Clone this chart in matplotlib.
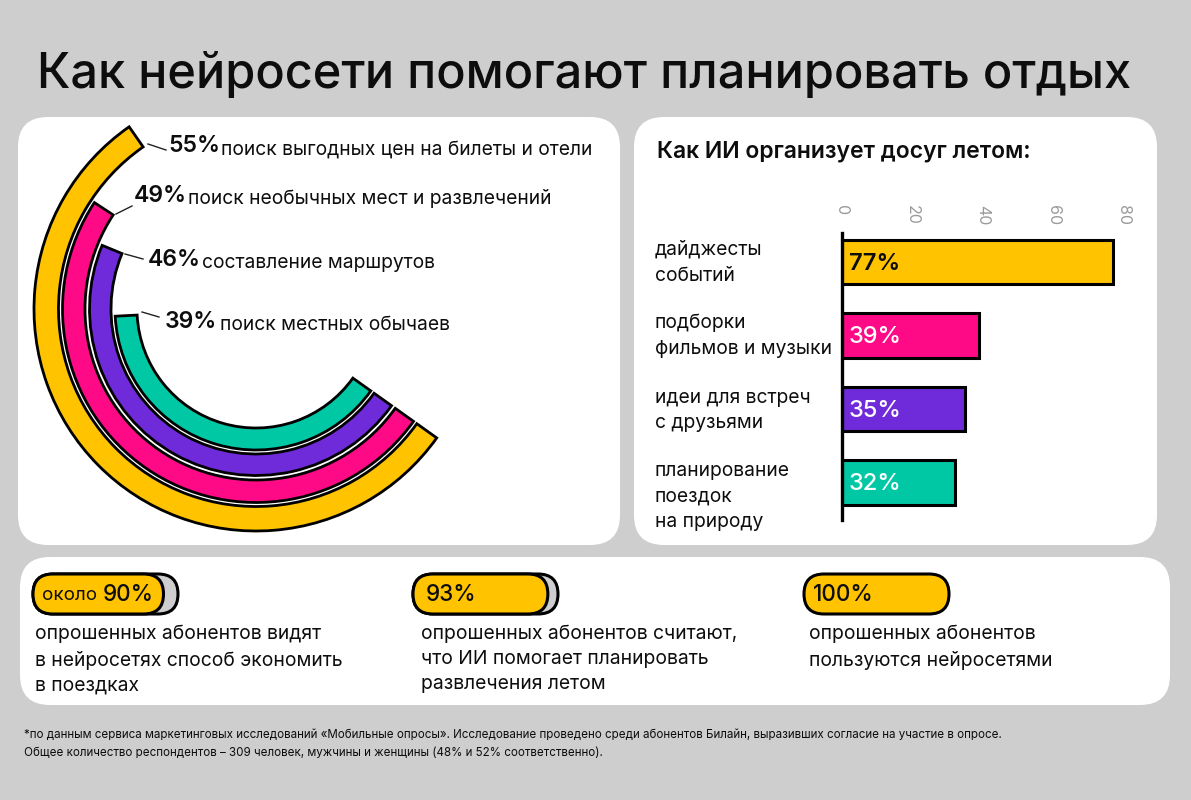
import numpy as np
import matplotlib
matplotlib.use("Agg")
import matplotlib.pyplot as plt
from matplotlib.patches import FancyBboxPatch

plt.rcParams['font.family'] = ['Inter', 'DejaVu Sans']

title = "Как нейросети помогают планировать отдых"
right_title = "Как ИИ организует досуг летом:"

arc_vals = [55, 49, 46, 39]
arc_labels = ["поиск выгодных цен на билеты и отели", "поиск необычных мест и развлечений",
              "составление маршрутов", "поиск местных обычаев"]
colors = ["#FFC300", "#FF0A86", "#6F2BD9", "#00C8A5"]

bar_vals = [77, 39, 35, 32]
bar_labels = ["дайджесты\nсобытий", "подборки\nфильмов и музыки",
              "идеи для встреч\nс друзьями", "планирование\nпоездок\nна природу"]
bar_ticks = [0, 20, 40, 60, 80]

pill_vals = [90, 93, 100]
pill_labels = ["90%", "93%", "100%"]
pill_texts = ["опрошенных абонентов видят\nв нейросетях способ экономить\nв поездках",
              "опрошенных абонентов считают,\nчто ИИ помогает планировать\nразвлечения летом",
              "опрошенных абонентов\nпользуются нейросетями"]

footnote = ["*по данным сервиса маркетинговых исследований «Мобильные опросы». Исследование проведено среди абонентов Билайн, выразивших согласие на участие в опросе.",
            "Общее количество респондентов – 309 человек, мужчины и женщины (48% и 52% соответственно)."]

W, H = 1191, 800
INK = "#0D0D0D"
fig = plt.figure(figsize=(W / 100, H / 100), dpi=100, facecolor="#CECECE")

# page layer in pixel coordinates
bg = fig.add_axes([0, 0, 1, 1])
bg.set_xlim(0, W)
bg.set_ylim(H, 0)
bg.axis('off')


def panel(x, y, w, h, r=30, fc="white", ec="none", lw=0, z=1):
    bg.add_patch(FancyBboxPatch((x, y), w, h, boxstyle=f"round,pad=0,rounding_size={r}",
                                fc=fc, ec=ec, lw=lw, zorder=z))


panel(18, 117, 602, 428)
panel(634, 117, 523, 428)
panel(20, 557, 1150, 148)

bg.text(37, 74, title, fontsize=35.07, fontweight='medium', color=INK, va='center')
bg.text(657, 151, right_title, fontsize=16.5, fontweight='semibold', color=INK, va='center')

# radial chart
cx, cy, rmax = 256, 309, 240
pol = fig.add_axes([(cx - rmax) / W, (H - cy - rmax) / H, 2 * rmax / W, 2 * rmax / H], projection='polar')
pol.set_theta_direction(-1)
pol.set_theta_offset(np.radians(-35.5))
pol.set_rlim(0, rmax)
pol.axis('off')
ring_in = [197.5, 171, 145, 119]
ring_w = [24.5, 22.5, 21.5, 22]
for v, r0, dr, c in zip(arc_vals, ring_in, ring_w, colors):
    pol.bar(0, dr, width=np.radians(v * 3.63), bottom=r0, align='edge', color=c, edgecolor="black", linewidth=2)

pct_pos = [(168, 146), (134, 196), (148, 260), (165, 322)]
txt_pos = [(221, 150), (188, 199), (202, 263), (220, 325)]
leaders = [((148, 144), (166, 150)), ((116, 214), (132, 206)), ((125, 254), (143, 259)), ((142, 312), (159, 317))]
for v, lab, p, t, l in zip(arc_vals, arc_labels, pct_pos, txt_pos, leaders):
    bg.text(p[0], p[1], f"{v}%", fontsize=16.5, fontweight='semibold', color=INK, va='center', zorder=3)
    bg.text(t[0], t[1], lab, fontsize=13.85, color=INK, va='center', zorder=3)
    bg.plot([l[0][0], l[1][0]], [l[0][1], l[1][1]], color="#222222", lw=1, zorder=3)

# horizontal bars
left, right, top, bottom = 842, 1123.6, 233, 520
ax = fig.add_axes([left / W, (H - bottom) / H, (right - left) / W, (bottom - top) / H])
ax.patch.set_alpha(0)
ypos = np.arange(len(bar_vals))
ax.barh(ypos, bar_vals, height=0.6, color=colors, edgecolor="black", linewidth=2.2)
ax.set_xlim(0, 80)
ax.set_ylim(3.51, -0.395)
for s in ['top', 'right', 'bottom']:
    ax.spines[s].set_visible(False)
ax.spines['left'].set_linewidth(2.4)
ax.spines['left'].set_color("black")
ax.set_yticks([])
ax.set_xticks(bar_ticks)
ax.tick_params(axis='x', length=0, bottom=False, labelbottom=False, labeltop=True, pad=20,
               labelsize=11.5, labelcolor="#9A9A9A")
for lb in ax.get_xticklabels():
    lb.set_rotation(-90)
    lb.set_va('top')
    lb.set_ha('center')
for i, v in enumerate(bar_vals):
    ax.text(2.0, i + 0.025, f"{v}%", fontsize=17, fontweight='semibold' if i == 0 else 'medium', va='center',
            color=INK if i == 0 else "white")

cat_y = [262.5, 335.5, 410.5, 496.5]
for lab, y in zip(bar_labels, cat_y):
    bg.text(655, y, lab, fontsize=13.85, color=INK, va='center', linespacing=1.55)

# pills with text below
pill_x = [33, 413, 804]
pill_w = 145
txt_x = [35, 421, 809]
pill_off = [70, 13, 9]
for x, v, lab, s, tx, off in zip(pill_x, pill_vals, pill_labels, pill_texts, txt_x, pill_off):
    if v < 100:
        panel(x, 574, pill_w, 40, r=20, fc="#CECECE", ec="black", lw=2.2, z=2)
    panel(x, 574, pill_w * v / 100, 40, r=20, fc="#FFC300", ec="black", lw=2.2, z=3)
    bg.text(tx, 625, s, fontsize=13.9, color=INK, va='top', linespacing=1.5, zorder=3)
    bg.text(x + off, 595, lab, fontsize=16.2, fontweight='medium', color=INK, va='center', zorder=4)
bg.text(42, 595, "около", fontsize=13.5, color=INK, va='center', zorder=4)

bg.text(24, 735, footnote[0], fontsize=8.37, color=INK, va='center')
bg.text(24, 753, footnote[1], fontsize=8.37, color=INK, va='center')

fig.savefig("out.png", dpi=100, facecolor=fig.get_facecolor())
